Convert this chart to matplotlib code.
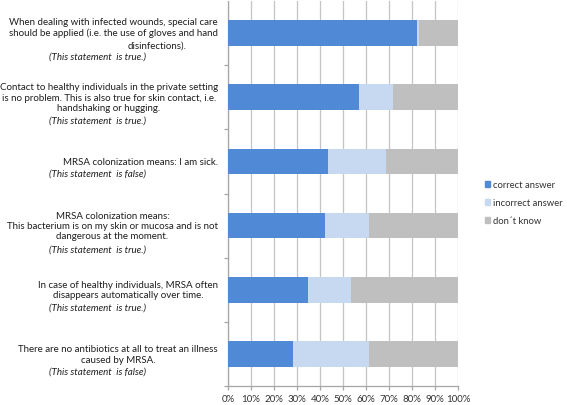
import matplotlib
matplotlib.use("Agg")
import matplotlib.pyplot as plt
from matplotlib.patches import Patch
from matplotlib.ticker import MultipleLocator, PercentFormatter

# statements, top to bottom
statements = [
    "When dealing with infected wounds, special care\nshould be applied (i.e. the use of gloves and hand\ndisinfections).",
    "Contact to healthy individuals in the private setting\nis no problem. This is also true for skin contact, i.e.\nhandshaking or hugging.",
    "MRSA colonization means: I am sick.",
    "MRSA colonization means:\nThis bacterium is on my skin or mucosa and is not\ndangerous at the moment.",
    "In case of healthy individuals, MRSA often\ndisappears automatically over time.",
    "There are no antibiotics at all to treat an illness\ncaused by MRSA.",
]
verdicts = [
    "(This statement  is true.)",
    "(This statement  is true.)",
    "(This statement  is false)",
    "(This statement  is true.)",
    "(This statement  is true.)",
    "(This statement  is false)",
]
correct = [82.2, 57.0, 43.3, 42.0, 34.6, 28.2]
incorrect = [1.0, 14.8, 25.3, 19.5, 18.7, 33.3]
dont_know = [16.8, 28.2, 31.4, 38.5, 46.7, 38.5]
series_names = ["correct answer", "incorrect answer", "don\u00b4t know"]

BLUE = "#5089d6"
LIGHT = "#c6d9f1"
GREY = "#bfbfbf"
GRID = "#c4c4c4"
INK = "#1e1e1e"
LS = 11.5  # label line step in px

plt.rcParams["font.family"] = "Lato"

fig = plt.figure(figsize=(5.67, 4.06), dpi=100)
ax = fig.add_axes([228 / 567, 1 - 387 / 406, 230 / 567, 385 / 406])

n = len(statements)
ys = list(range(n))
left2 = [c + i for c, i in zip(correct, incorrect)]
ax.barh(ys, correct, height=0.4, color=BLUE, zorder=3)
ax.barh(ys, incorrect, left=correct, height=0.4, color=LIGHT, zorder=3)
ax.barh(ys, dont_know, left=left2, height=0.4, color=GREY, zorder=3)

ax.set_xlim(0, 100)
ax.set_ylim(n - 0.5, -0.5)
ax.xaxis.set_major_locator(MultipleLocator(10))
ax.xaxis.set_major_formatter(PercentFormatter(decimals=0))
ax.grid(axis="x", color=GRID, lw=0.9, zorder=0)
ax.set_yticks([i - 0.5 for i in range(1, n + 1)])
ax.set_yticklabels([])
for s in ["top", "right"]:
    ax.spines[s].set_visible(False)
for s in ["left", "bottom"]:
    ax.spines[s].set_color("#a6a6a6")
    ax.spines[s].set_linewidth(0.9)
ax.tick_params(axis="both", colors="#a6a6a6", length=3, width=0.9)
ax.tick_params(axis="x", labelcolor="#333333", labelsize=7, pad=2.5)

kw = dict(xycoords="data", textcoords="offset pixels", fontsize=7, color=INK)
for y, txt, verdict in zip(ys, statements, verdicts):
    lines = txt.split("\n")
    nl = len(lines)
    if y == 0:
        # the last line of the first label sits off-centre in the original
        ax.annotate(lines[-1], xy=(0, y), xytext=(-71, -LS),
                    ha="center", va="center", **kw)
        block = "\n".join(lines[:-1])
        ax.annotate(block, xy=(0, y), xytext=(-10, LS / 2),
                    ha="right", va="center", multialignment="center",
                    linespacing=1.2, **kw)
    else:
        ax.annotate(txt, xy=(0, y), xytext=(-10, 0), ha="right", va="center",
                    multialignment="center", linespacing=1.2, **kw)
    dy = -((nl - 1) / 2 + 1) * LS
    ax.annotate(verdict, xy=(0, y), xytext=(-179, dy), ha="left",
                va="center", style="italic", **kw)

handles = [Patch(color=c) for c in (BLUE, LIGHT, GREY)]
fig.legend(handles, series_names, loc="upper left",
           bbox_to_anchor=(476 / 567, 1 - 173 / 406), frameon=False,
           fontsize=6.8, handlelength=0.55, handleheight=0.6,
           handletextpad=0.35, labelspacing=0.95, labelcolor="#333333")

fig.savefig("out.png", dpi=100)
